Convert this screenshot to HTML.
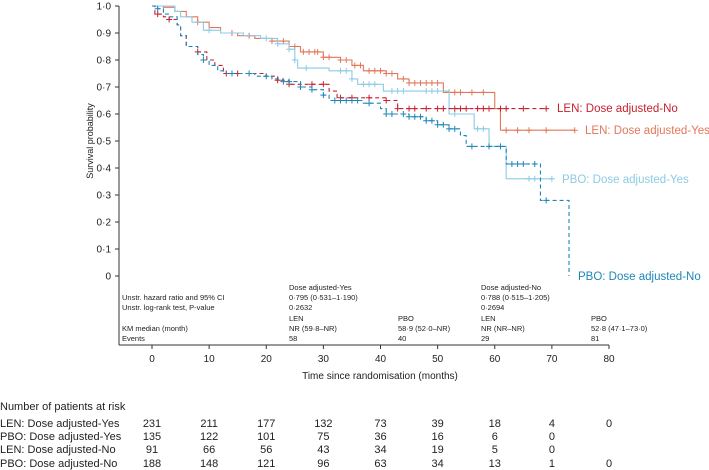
<!DOCTYPE html>
<html><head><meta charset="utf-8"><style>
html,body{margin:0;padding:0;background:#fff;}
svg{display:block;font-family:"Liberation Sans",Arial,sans-serif;}
</style></head><body>
<svg id="chart" width="709" height="470" viewBox="0 0 709 470"></svg>
<script>
const seriesNames=["LEN: Dose adjusted-Yes","PBO: Dose adjusted-Yes","LEN: Dose adjusted-No","PBO: Dose adjusted-No"];
const lenYesT=[0,2,4,6,8,10,12,15,18,21,24,26,30,33,35,37,41,43,45,51,60,61];
const lenYesS=[1,0.995,0.98,0.96,0.94,0.92,0.9,0.89,0.88,0.87,0.85,0.83,0.81,0.80,0.78,0.76,0.75,0.73,0.715,0.68,0.62,0.54];
const pboYesT=[0,4,5,7,9,12,16,19,22,24,25,25.5,31,35,36,40.5,52,56.4,59,62];
const pboYesS=[1,0.98,0.96,0.94,0.91,0.9,0.89,0.88,0.86,0.84,0.80,0.77,0.76,0.73,0.71,0.685,0.60,0.545,0.48,0.36];
const lenNoT=[0,0.5,2,3,4.4,5,6,8,9.6,11,12.5,20,22,24,31,32.4,41,43];
const lenNoS=[1,0.97,0.96,0.95,0.93,0.89,0.85,0.83,0.80,0.78,0.75,0.74,0.725,0.71,0.685,0.66,0.65,0.62];
const pboNoT=[0,1,2,3,4.4,5,6,8,9,10,11.5,13,18,21,23,26,28,30,31,37,40,41,45,48,50,52,54,55,62,68,73];
const pboNoS=[1,0.99,0.97,0.96,0.93,0.89,0.85,0.82,0.80,0.78,0.76,0.75,0.74,0.73,0.72,0.70,0.69,0.67,0.65,0.64,0.62,0.60,0.59,0.575,0.56,0.545,0.52,0.48,0.415,0.28,0];
const endTimes=[74,70,69,73];
const lenYesC=[8,14,17,21,23,25,26.5,27.5,28.5,29,30,31,33,34,35.5,36.5,38,39,40,41,42,44,45,46,47,48,49,50,52,53,54,56,58,62,64,66,69];
const pboYesC=[10,20,22,24,25,27,33,34,35,37,38,39,42,43,44,48,49,50,53,57,58,66,67];
const lenNoC=[1,3,8,13,15,22,24,28,30,33,35,38,41,43,45,46,48,50,51,53,54,55,57,58,59,61,62,65];
const pboNoC=[1,9,14,17,20,23,24,26,28,30,32,33,34,35,36,38,41,42,44,45,46,47,48,49,50,51,52,53,56,59,61,63,64,65,67,69];
const yTicks=[0,0.1,0.2,0.3,0.4,0.5,0.6,0.7,0.8,0.9,1.0];
const xTicks=[0,10,20,30,40,50,60,70,80];
const riskRows=[[231,211,177,132,73,39,18,4,0],[135,122,101,75,36,16,6,0,null],[91,66,56,43,34,19,5,0,null],[188,148,121,96,63,34,13,1,0]];
const colors=["#e2775a","#8ccbe4","#c8202e","#1d86b9"];
const dashed=[false,false,true,true];
const labelY=[130,179,108,276];
const labelX=[585,562,557,578];

const X=t=>152+t*5.7125, Y=s=>276-s*270;
const svg=document.getElementById('chart');const NS="http://www.w3.org/2000/svg";
function el(tag,attrs,parent){const e=document.createElementNS(NS,tag);for(const k in attrs)e.setAttribute(k,attrs[k]);(parent||svg).appendChild(e);return e;}
function txt(str,x,y,attrs){const e=el('text',Object.assign({x:x,y:y},attrs||{}));e.textContent=str;return e;}
let a=el('line',{x1:119,y1:6,x2:119,y2:345,stroke:'#333','stroke-width':1});

a=el('line',{x1:119,y1:345,x2:609,y2:345,stroke:'#333','stroke-width':1});

yTicks.forEach(v=>{el('line',{x1:115,x2:119,y1:Y(v),y2:Y(v),stroke:'#333'});
 const t=txt(v===0?'0':v.toFixed(1).replace('.','·'),111,Y(v)+3.5,{'text-anchor':'end','font-size':10,fill:'#222'});
 });
xTicks.forEach(v=>{el('line',{x1:X(v),x2:X(v),y1:345,y2:349,stroke:'#333'});
 const t=txt(String(v),X(v),362,{'text-anchor':'middle','font-size':10,fill:'#222'});
 });
let t=txt('Time since randomisation (months)',380,379,{'text-anchor':'middle','font-size':10,fill:'#222'});

t=txt('Survival probability',0,0,{'text-anchor':'middle','font-size':9,fill:'#222',transform:'translate(93,141) rotate(-90)'});

const Ts=[lenYesT,pboYesT,lenNoT,pboNoT],Ss=[lenYesS,pboYesS,lenNoS,pboNoS],Cs=[lenYesC,pboYesC,lenNoC,pboNoC];
const ids=['len-yes','pbo-yes','len-no','pbo-no'];
function survAt(T,S,x){let s=S[0];for(let i=0;i<T.length;i++){if(T[i]<=x)s=S[i];}return s;}
[0,1,2,3].forEach(k=>{
 const T=Ts[k],S=Ss[k];let d='M'+X(T[0])+','+Y(S[0]);
 for(let i=1;i<T.length;i++){d+=' H'+X(T[i])+' V'+Y(S[i]);}
 d+=' H'+X(endTimes[k]);
 const p=el('path',{d:d,fill:'none',stroke:colors[k],'stroke-width':1.1});
 if(dashed[k])p.setAttribute('stroke-dasharray','4,3');
 
 Cs[k].concat([endTimes[k]]).forEach(c=>{if(c>endTimes[k]||(k===3&&c>=73))return;const s=survAt(T,S,c);
  const m=el('path',{d:`M${X(c)-3},${Y(s)} h6 M${X(c)},${Y(s)-3} v6`,stroke:colors[k],'stroke-width':1});
  });
 const l=txt(seriesNames[k],labelX[k],labelY[k]+4,{'font-size':11.5,fill:colors[k]});
 
});
const st=[["Unstr. hazard ratio and 95% CI",300],["Unstr. log-rank test, P-value",310],["KM median (month)",331],["Events",341]];
st.forEach(r=>{const e=txt(r[0],122,r[1],{'font-size':7.5,fill:'#222'});});
const cells=[["Dose adjusted-Yes",289,290],["0·795 (0·531–1·190)",289,300],["0·2632",289,310],["LEN",289,321],["NR (59·8–NR)",289,331],["58",289,341],
["PBO",398,321],["58·9 (52·0–NR)",398,331],["40",398,341],
["Dose adjusted-No",481,290],["0·788 (0·515–1·205)",481,300],["0·2694",481,310],["LEN",481,321],["NR (NR–NR)",481,331],["29",481,341],
["PBO",591,321],["52·8 (47·1–73·0)",591,331],["81",591,341]];
cells.forEach(c=>{const e=txt(c[0],c[1],c[2],{'font-size':7.5,fill:'#222'});});
t=txt('Number of patients at risk',0,410,{'font-size':11,fill:'#222'});

const rowY=[427,440,453,467];
riskRows.forEach((row,r)=>{
 const n=txt(seriesNames[r],0,rowY[r],{'font-size':11,fill:'#222'});
 
 row.forEach((v,i)=>{if(v===null)return;const e=txt(String(v),X(xTicks[i]),rowY[r],{'font-size':11,fill:'#222','text-anchor':'middle'});
  });
});
</script>
</body></html>
